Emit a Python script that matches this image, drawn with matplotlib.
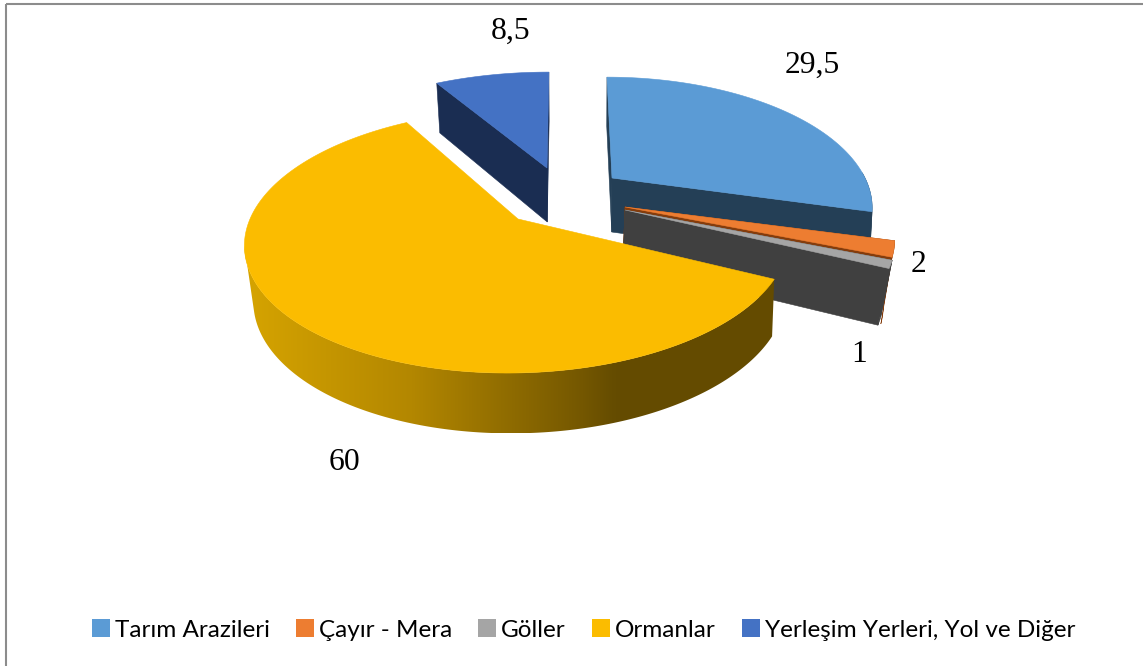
import numpy as np
import matplotlib
matplotlib.use("Agg")
import matplotlib.pyplot as plt
from matplotlib.patches import Polygon, Patch
from matplotlib.colors import LinearSegmentedColormap

labels = ["Tarım Arazileri", "Çayır - Mera", "Göller", "Ormanlar", "Yerleşim Yerleri, Yol ve Diğer"]
values = [29.5, 2, 1, 60, 8.5]

face_colors = ["#5B9BD5", "#ED7D31", "#A5A5A5", "#FBBC00", "#4472C4"]
wall_colors = ["#243F56", "#843C0C", "#404040", "#614800", "#1A2D52"]
centers = [(612, 178), (625, 207), (625, 210), (518, 219), (547, 168)]
radii = [253, 261, 261, 268, 262]
bottom_scale = [0.99, 0.965, 0.965, 0.979, 0.975]
vp_x = [583, 570, 570, 570, 558]
bottom_vp = [583, 570, 570, 671, 558]
persp = [0.2095, 0.2095, 0.2095, 0.169, 0.2095]
tilt = [122, 122, 122, 128, 116]
arc_depth = [54, 64, 54, 55, 54]
RADIAL_DEPTH = 54
label_pos = [(812, 65), (918, 265), (859, 354), (344, 462), (511, 31)]
draw_order = [4, 0, 1, 2, 3]

fig = plt.figure(figsize=(11.43, 6.66), dpi=100, facecolor="white")
ax = fig.add_axes([0, 0, 1, 1])
ax.set_xlim(0, 1143)
ax.set_ylim(666, 0)
ax.axis("off")


def project(theta, r_frac, i, depth=None):
    c, R, bs, vp, k, cr = centers[i], radii[i], bottom_scale[i], vp_x[i], persp[i], tilt[i]
    u = np.sin(theta) * r_frac
    v = np.cos(theta) * r_frac
    w = 1 + k * v
    x = vp + (c[0] - vp + R * u) / w
    y = c[1] - cr * v / w
    if depth is not None:
        y = y + depth / np.sqrt(w)
        x = bottom_vp[i] + (x - bottom_vp[i]) * bs
    return x, y


edges = np.concatenate([[0], np.cumsum(values)]) / np.sum(values) * 2 * np.pi
gold = LinearSegmentedColormap.from_list(
    "gold", [(0, "#D6A400"), (0.316, "#B38700"), (0.64, "#745700"), (0.70, "#654C00"), (1, "#644B00")])

for i in draw_order:
    a0, a1 = edges[i], edges[i + 1]
    th = np.linspace(a0, a1, max(int(np.degrees(a1 - a0) * 2), 6))
    tx, ty = project(th, 1.0, i)
    ax0, ay0 = project(0.0, 0.0, i)
    bx0, by0 = project(0.0, 0.0, i, depth=RADIAL_DEPTH)
    if i != 3:
        for a in (a0, a1):
            t1x, t1y = project(a, 1.0, i)
            b1x, b1y = project(a, 1.0, i, depth=RADIAL_DEPTH)
            ax.add_patch(Polygon([(ax0, ay0), (t1x, t1y), (b1x, b1y), (bx0, by0)],
                                 closed=True, fc=wall_colors[i], ec=wall_colors[i], lw=0.4))
    front = th[np.cos(th) < 0.05]
    if len(front) > 1:
        fx, fy = project(front, 1.0, i)
        gx, gy = project(front, 1.0, i, depth=arc_depth[i])
        if i == 3:
            # silhouette: from the leftmost top point straight to the tangent on the bottom arc
            L = int(np.argmin(fx))
            below = gy > fy[L] + 1
            slope = np.where(below, (gx - fx[L]) / np.maximum(gy - fy[L], 1), np.inf)
            B = int(np.argmin(slope))
            side = np.vstack([np.column_stack([fx[:L + 1], fy[:L + 1]]),
                              np.column_stack([gx[:B + 1], gy[:B + 1]])[::-1]])
            clip = Polygon(side, closed=True, transform=ax.transData, fc="none", ec="none")
            ax.add_patch(clip)
            grad = np.linspace(0, 1, 256).reshape(1, -1)
            im = ax.imshow(grad, cmap=gold, extent=(tx.min(), tx.max(), gy.max(), fy.min()),
                           aspect="auto", interpolation="bilinear", zorder=1)
            im.set_clip_path(clip)
            ax.set_xlim(0, 1143)
            ax.set_ylim(666, 0)
        else:
            side = np.vstack([np.column_stack([fx, fy]), np.column_stack([gx, gy])[::-1]])
            ax.add_patch(Polygon(side, closed=True, fc=wall_colors[i], ec=wall_colors[i], lw=0.4))
    ax.add_patch(Polygon(np.vstack([[ax0, ay0], np.column_stack([tx, ty])]),
                         closed=True, fc=face_colors[i], ec=face_colors[i], lw=0.4, zorder=2 if i == 3 else 1))

for v, (x, y) in zip(values, label_pos):
    ax.text(x, y, f"{v:g}".replace(".", ","), fontsize=22.8, family="Liberation Serif",
            ha="center", va="center", color="black")

ax.plot([6, 6], [666, 4], color="#8C8C8C", lw=1.5, solid_capstyle="butt")
ax.plot([6, 1143], [4, 4], color="#8C8C8C", lw=1.5, solid_capstyle="butt")

handles = [Patch(fc=c, ec="none") for c in face_colors]
ax.legend(handles, labels, loc="center", bbox_to_anchor=(583.5 / 1143, 1 - 630 / 666), ncol=5, frameon=False,
          prop={"family": "Lato", "size": 17.5}, handlelength=0.75, handleheight=0.75, handletextpad=0.2,
          columnspacing=1.07, borderpad=0, labelcolor="black")

fig.savefig("out.png", dpi=100, facecolor="white")
